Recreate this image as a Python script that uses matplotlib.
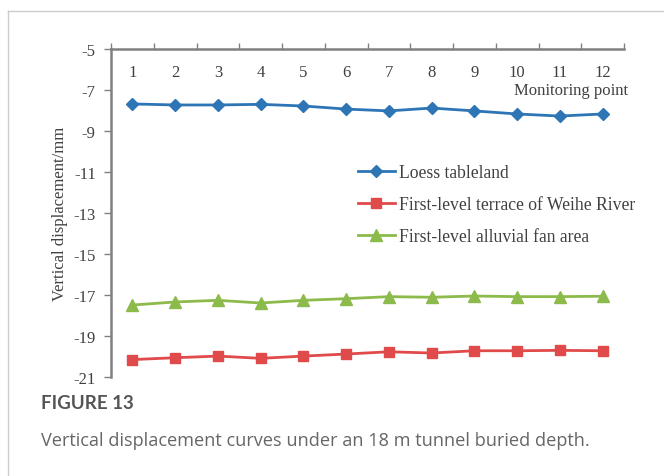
import matplotlib.pyplot as plt
import numpy as np

# monitoring points and vertical displacement (mm)
points = np.arange(1, 13)
point_labels = [str(p) for p in points]
loess = [-7.68, -7.73, -7.73, -7.70, -7.78, -7.93, -8.02, -7.88, -8.02, -8.17, -8.27, -8.17]
terrace = [-20.15, -20.06, -19.98, -20.09, -19.98, -19.88, -19.77, -19.83, -19.72, -19.72, -19.70, -19.72]
fan = [-17.49, -17.34, -17.26, -17.39, -17.26, -17.18, -17.08, -17.11, -17.05, -17.08, -17.08, -17.06]
yticks = np.arange(-5, -22, -2)

serif = 'Liberation Serif'
txt = '#404040'
axc = '#808080'

fig = plt.figure(figsize=(6.64, 4.77), dpi=100)
ax = fig.add_axes([111/664, 1-378/477, 513/664, 328/477])

ax.plot(points, loess, color='#2E75B6', lw=2, marker='D', ms=6.5, label='Loess tableland')
ax.plot(points, terrace, color='#E04A4A', lw=2, marker='s', ms=7.5, label='First-level terrace of Weihe River')
ax.plot(points, fan, color='#8CBB4C', lw=2, marker='^', ms=8.5, label='First-level alluvial fan area')

ax.set_xlim(0.5, 12.5)
ax.set_ylim(-21, -5)
ax.set_yticks(yticks)
ax.set_yticklabels([str(v) for v in yticks], family=serif, fontsize=12, color=txt)

# x axis sits on top, labels inside the plot
ax.xaxis.tick_top()
ax.set_xticks(np.arange(0.5, 13, 1))
ax.set_xticklabels([])
ax.set_xticks(points, point_labels, minor=True)
ax.tick_params(axis='x', which='major', direction='out', length=4, color=axc, width=1)
ax.tick_params(axis='x', which='minor', length=0, pad=-22, labelsize=12, labelcolor=txt)
for lb in ax.get_xticklabels(minor=True):
    lb.set_family(serif)
ax.tick_params(axis='y', direction='out', length=5, color=axc, width=1, pad=6)

for s in ['bottom', 'right']:
    ax.spines[s].set_visible(False)
for s in ['top', 'left']:
    ax.spines[s].set_color(axc)
    ax.spines[s].set_linewidth(1.8)

ax.text(1.008, 0.876, 'Monitoring point', transform=ax.transAxes, ha='right', va='center',
        family=serif, fontsize=12, color=txt)
ax.set_ylabel('Vertical displacement/mm', family=serif, fontsize=12, color=txt, labelpad=4)

leg = ax.legend(loc='upper left', bbox_to_anchor=(0.45, 0.697), frameon=False,
                prop={'family': serif, 'size': 12.7}, labelspacing=0.85,
                handlelength=2.1, handletextpad=0.25)
for t in leg.get_texts():
    t.set_color(txt)

# page frame and caption
fig.add_artist(plt.Line2D([8/664, 1], [1-12/477, 1-12/477], color='#cccccc', lw=1))
fig.add_artist(plt.Line2D([8/664, 8/664], [0, 1-12/477], color='#cccccc', lw=1))
fig.text(41/664, 1-404/477, 'FIGURE 13', family='Lato', weight='bold', fontsize=13.5,
         color='#555555', va='center')
fig.text(41/664, 1-441/477, 'Vertical displacement curves under an 18 m tunnel buried depth.',
         family='Open Sans', fontsize=13.1, color='#666666', va='center')

fig.savefig('out.png', dpi=100)
